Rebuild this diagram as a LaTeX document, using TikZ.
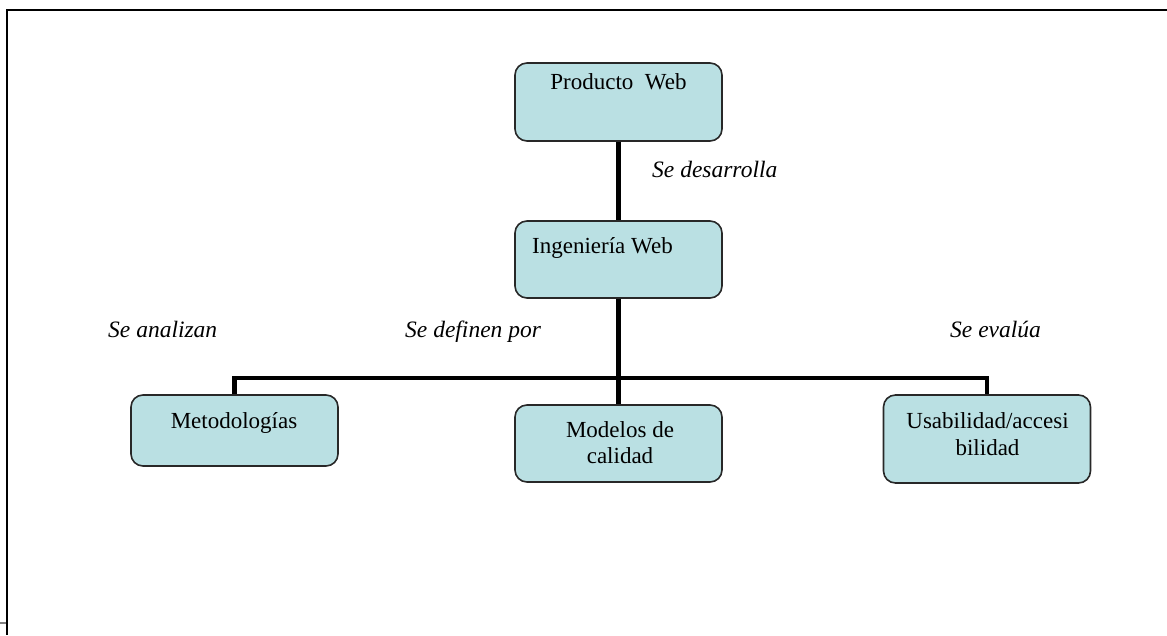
\documentclass[tikz,border=0pt]{standalone}
\usepackage{fontspec}
\setmainfont{Liberation Serif}
\definecolor{boxfill}{RGB}{186,224,227}
\definecolor{boxline}{RGB}{40,40,40}
\tikzset{
  box/.style={draw=boxline, line width=1.6pt, fill=boxfill, rounded corners=12pt,
    minimum width=207pt, inner sep=0pt},
  txt/.style={font=\fontsize{23}{28}\selectfont, inner sep=0pt, anchor=base},
  lbl/.style={font=\fontsize{23.5}{28}\selectfont\itshape, inner sep=0pt, anchor=base west},
  conn/.style={line width=4.5pt, line cap=butt, line join=miter},
}
\begin{document}
\begin{tikzpicture}[x=1pt,y=-1pt]
\useasboundingbox (0,0) rectangle (1167,635);
% frame
\draw[line width=2pt] (1167,9.5) -- (6.5,9.5) -- (6.5,635);
\draw[gray, line width=1.5pt] (0,623) -- (5.5,623);
% boxes
\node[box, minimum height=78pt] (pw) at (618.5,102) {};
\node[box, minimum height=77pt] (iw) at (618.5,259.5) {};
\node[box, minimum height=71pt] (met) at (234.5,430.5) {};
\node[box, minimum height=77pt] (mc) at (618.5,443.5) {};
\node[box, minimum height=88pt] (usa) at (987,439) {};
\coordinate (hl) at (235,378);
% connectors
\draw[conn] (pw.south) -- (iw.north);
\draw[conn] (iw.south) -- (mc.north);
\draw[conn] (met.north) |- (hl) -| (usa.north);
% box texts
\node[txt] (pwt) at (618.5,89) {Producto\ \ Web};
\node[txt, anchor=base west] (iwt) at (532,253) {Ingeniería Web};
\node[txt] (mett) at (234,428) {Metodologías};
\node[txt] (mct1) at (620,437) {Modelos de};
\node[txt] (mct2) at (620,463) {calidad};
\node[txt] (usat1) at (987.5,428) {Usabilidad/accesi};
\node[txt] (usat2) at (987.5,455) {bilidad};
% labels
\node[lbl] (l1) at (652,177) {Se desarrolla};
\node[lbl] (l2) at (108,337) {Se analizan};
\node[lbl] (l3) at (405,337) {Se definen por};
\node[lbl] (l4) at (950,337) {Se evalúa};
\end{tikzpicture}
\end{document}
